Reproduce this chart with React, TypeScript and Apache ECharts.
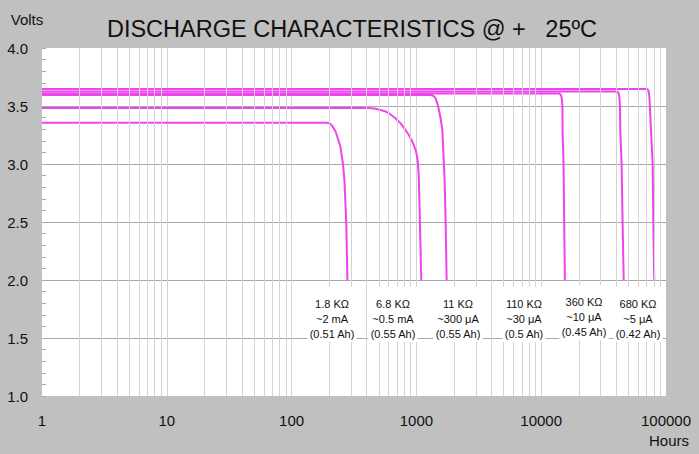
import React, { useEffect, useRef } from "react";
import * as echarts from "echarts";

// ---- data ----
const seriesNames = ["1.8 KΩ", "6.8 KΩ", "11 KΩ", "110 KΩ", "360 KΩ", "680 KΩ"];

const hours1k8 = [1, 190, 200, 207, 214, 225, 235, 246, 258, 265, 274, 280];
const volts1k8 = [3.356, 3.356, 3.352, 3.34, 3.32, 3.28, 3.22, 3.15, 3.0, 2.86, 2.5, 2.0];

const hours6k8 = [1, 404, 460, 516, 560, 602, 680, 747, 810, 871, 930, 986, 1010, 1028, 1040, 1047, 1067, 1094];
const volts6k8 = [3.483, 3.483, 3.478, 3.466, 3.455, 3.437, 3.395, 3.35, 3.3, 3.25, 3.19, 3.12, 3.07, 3.01, 2.93, 2.86, 2.5, 2.0];

const hours11k = [1, 1300, 1370, 1426, 1470, 1515, 1565, 1614, 1684, 1715, 1747];
const volts11k = [3.595, 3.595, 3.588, 3.566, 3.525, 3.466, 3.39, 3.29, 2.86, 2.5, 2.0];

const hours110k = [1, 14000, 14400, 14650, 14800, 14830, 15100, 15280, 15480];
const volts110k = [3.608, 3.608, 3.595, 3.56, 3.48, 3.29, 3.0, 2.5, 2.0];

const hours360k = [1, 40500, 41700, 42400, 42800, 43000, 44070, 44890, 45800];
const volts360k = [3.625, 3.625, 3.612, 3.57, 3.48, 3.29, 3.0, 2.5, 2.0];

const hours680k = [1, 70500, 72300, 73500, 74400, 75800, 78200, 79100, 80500];
const volts680k = [3.647, 3.647, 3.634, 3.59, 3.48, 3.29, 3.0, 2.5, 2.0];

const allHours = [hours1k8, hours6k8, hours11k, hours110k, hours360k, hours680k];
const allVolts = [volts1k8, volts6k8, volts11k, volts110k, volts360k, volts680k];

const loadLabels = ["1.8 KΩ", "6.8 KΩ", "11 KΩ", "110 KΩ", "360 KΩ", "680 KΩ"];
const currentLabels = ["~2 mA", "~0.5 mA", "~300 μA", "~30 μA", "~10 μA", "~5 μA"];
const capacityLabels = ["(0.51 Ah)", "(0.55 Ah)", "(0.55 Ah)", "(0.5 Ah)", "(0.45 Ah)", "(0.42 Ah)"];

const decades = [1, 10, 100, 1000, 10000];
const minorMultipliers = [2, 3, 4, 5, 6, 7, 8, 9];

const titleText = "DISCHARGE CHARACTERISTICS @ +   25ºC";

// ---- layout ----
const annotX = [332, 393, 458, 524, 584, 638];
const annotTop = [287, 287, 287, 287, 285, 287];

const FONT = '"Liberation Sans", Arial, sans-serif';
const CURVE = "#ee44ee";

export default function App() {
  const ref = useRef<HTMLDivElement>(null);

  useEffect(() => {
    document.body.style.margin = "0";
    const chart = echarts.init(ref.current!, null, { renderer: "svg" });

    const minorLines: number[] = [];
    decades.forEach((d) => minorMultipliers.forEach((m) => minorLines.push(d * m)));

    const curveSeries = seriesNames.map((name, i) => ({
      type: "line",
      name,
      data: allHours[i].map((h, j) => [h, allVolts[i][j]]),
      showSymbol: false,
      symbol: "none",
      smooth: false,
      lineStyle: { color: CURVE, width: 2, join: "round" },
      itemStyle: { color: CURVE },
      silent: true,
      z: 3,
    }));

    const gridSeries = {
      type: "line",
      name: "grid",
      data: [],
      z: 1,
      silent: true,
      markLine: {
        silent: true,
        animation: false,
        symbol: ["none", "none"],
        label: { show: false },
        lineStyle: { color: "#d4d4d4", type: "solid", width: 1 },
        emphasis: { disabled: true },
        data: minorLines.map((v) => ({ xAxis: v })),
      },
    };

    const annotations = loadLabels.map((l, i) => ({
      type: "text",
      x: annotX[i],
      y: annotTop[i],
      z: 100,
      silent: true,
      style: {
        text: [l, currentLabels[i], capacityLabels[i]].join("\n"),
        align: "center",
        verticalAlign: "top",
        fontSize: 11,
        fontFamily: FONT,
        lineHeight: 15,
        fill: "#111",
        backgroundColor: "#fff",
        padding: [9, 2, 1, 2],
      },
    }));

    chart.setOption({
      animation: false,
      backgroundColor: "#c0c0c0",
      textStyle: { fontFamily: FONT },
      title: {
        text: titleText,
        left: 347,
        top: 12,
        textAlign: "center",
        textStyle: { fontSize: 23.5, fontWeight: "normal", color: "#111", fontFamily: FONT },
      },
      grid: {
        left: 42,
        right: 33,
        top: 48,
        bottom: 58,
        show: true,
        backgroundColor: "#fff",
        borderWidth: 0,
      },
      xAxis: {
        type: "log",
        logBase: 10,
        min: 1,
        max: 100000,
        axisLine: { show: false },
        axisTick: { show: false },
        axisLabel: {
          formatter: (v: number) => String(Math.round(v)),
          fontSize: 15,
          color: "#111",
          margin: 17,
          showMinLabel: true,
          showMaxLabel: true,
        },
        splitLine: {
          show: true,
          showMinLine: false,
          showMaxLine: false,
          lineStyle: { color: "#d4d4d4", width: 1 },
        },
      },
      yAxis: {
        type: "value",
        min: 1,
        max: 4,
        interval: 0.5,
        axisLine: { show: false },
        axisTick: { show: true, inside: true, length: 4, lineStyle: { color: "#aaa" } },
        minorTick: { show: true, splitNumber: 5, length: 4, lineStyle: { color: "#aaa" } },
        axisLabel: {
          formatter: (v: number) => v.toFixed(1),
          fontSize: 15,
          color: "#111",
          margin: 14,
        },
        splitLine: {
          show: true,
          showMinLine: false,
          showMaxLine: false,
          lineStyle: { color: "#a8a8a8", width: 1 },
        },
      },
      series: [gridSeries, ...curveSeries],
      graphic: [
        {
          type: "text",
          x: 27,
          y: 19,
          style: { text: "Volts", align: "center", verticalAlign: "middle", fontSize: 15, fontFamily: FONT, fill: "#111" },
        },
        {
          type: "text",
          x: 669,
          y: 440,
          style: { text: "Hours", align: "center", verticalAlign: "middle", fontSize: 15, fontFamily: FONT, fill: "#111" },
        },
        ...annotations,
      ],
    });

    return () => chart.dispose();
  }, []);

  return (
    <div
      ref={ref}
      style={{ position: "absolute", left: 0, top: 0, width: 699, height: 454, background: "#c0c0c0" }}
    />
  );
}
